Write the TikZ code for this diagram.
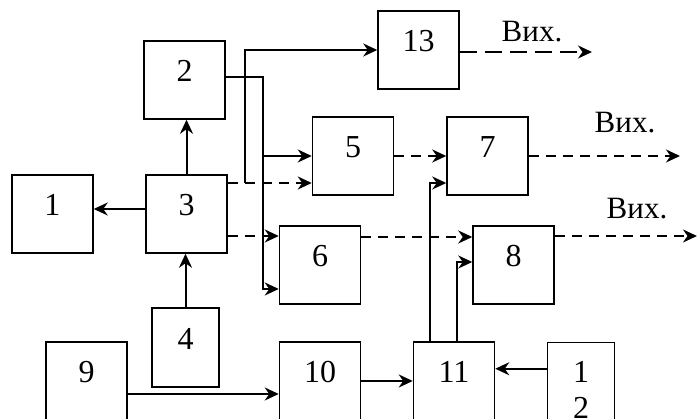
\documentclass[tikz,border=0pt]{standalone}
\usepackage{fontspec}
\setmainfont{Liberation Serif}
\usetikzlibrary{arrows.meta}

\tikzset{
  blk/.style={draw, line width=1.5pt, minimum width=81pt, minimum height=78pt,
    inner sep=0pt, font=\fontsize{32}{36}\selectfont,
    text height=21pt, text depth=17pt},
  narrowblk/.style={blk, minimum width=67pt},
  arr/.style={line width=2pt, -{Stealth[length=14pt,width=13pt,inset=4.5pt]}},
  darr/.style={arr, dash pattern=on 10pt off 7pt},
  longdarr/.style={arr, dash pattern=on 17pt off 8pt},
  outlbl/.style={font=\fontsize{31}{36}\selectfont, anchor=base}
}

\begin{document}
\begin{tikzpicture}[x=1pt, y=-1pt]
  \useasboundingbox (0,0) rectangle (697,419);
  \clip (0,0) rectangle (697,419);

  % blocks
  \node[blk] (b1) at (52.5,214) {1};
  \node[blk] (b2) at (184.5,80) {2};
  \node[blk] (b3) at (186.5,214) {3};
  \node[narrowblk, minimum height=79pt] (b4) at (185.5,347.5) {4};
  \node[blk] (b5) at (353,156) {5};
  \node[blk] (b6) at (320,265) {6};
  \node[blk] (b7) at (487.5,156) {7};
  \node[blk] (b8) at (513.5,265) {8};
  \node[blk] (b9) at (86.5,381) {9};
  \node[blk] (b10) at (320,381) {10};
  \node[blk] (b11) at (454,381) {11};
  \node[narrowblk, minimum height=94pt, text height=, text depth=, align=center,
        anchor=north] (b12) at (581,342) {1\\2};
  \node[blk] (b13) at (418.5,50) {13};

  % output labels
  \node[outlbl] (v1) at (532,42) {Вих.};
  \node[outlbl] (v2) at (625,133) {Вих.};
  \node[outlbl] (v3) at (637,219) {Вих.};

  % free ends and branch points
  \coordinate (o13) at (592,52);
  \coordinate (o7) at (680,156);
  \coordinate (o8) at (697,236);
  \coordinate (t5) at (262,156);
  \coordinate (t13) at (245,183);

  % solid links
  \draw[arr] (b3.north) -- (b3.north |- b2.south);
  \draw[arr] ([yshift=5pt]b3.west) -- ([yshift=5pt]b3.west -| b1.east);
  \draw[arr] (b4.north) -- (b4.north |- b3.south);
  \draw[arr] ([yshift=3pt]b2.east) -- ++(37,0) |- ([yshift=-24pt]b6.west);
  \draw[arr] (t5) -- (b5.west);
  \draw[arr] (t13) |- (b13.west);
  \draw[arr] ([xshift=-24pt]b11.north) |- ([yshift=-27pt]b7.west);
  \draw[arr] ([xshift=3pt]b11.north) |- ([yshift=3pt]b8.west);
  \draw[arr] ([yshift=-13pt]b9.east) -- ([yshift=-13pt]b9.east -| b10.west);
  \draw[arr] (b10.east) -- (b10.east -| b11.west);
  \draw[arr] ([yshift=21pt]b12.west) -- ([yshift=21pt]b12.west -| b11.east);

  % dashed links
  \draw[darr] ([yshift=31pt]b3.east) -- ([yshift=31pt]b3.east -| b5.west);
  \draw[darr] ([yshift=-22pt]b3.east) -- ([yshift=-22pt]b3.east -| b6.west);
  \draw[darr] (b5.east) -- (b7.west);
  \draw[darr] ([yshift=28pt]b6.east) -- ([yshift=28pt]b6.east -| b8.west);
  \draw[longdarr] ([yshift=-2pt]b13.east) -- (o13);
  \draw[darr] (b7.east) -- (o7);
  \draw[darr] (b8.east |- o8) -- (o8);
\end{tikzpicture}
\end{document}
